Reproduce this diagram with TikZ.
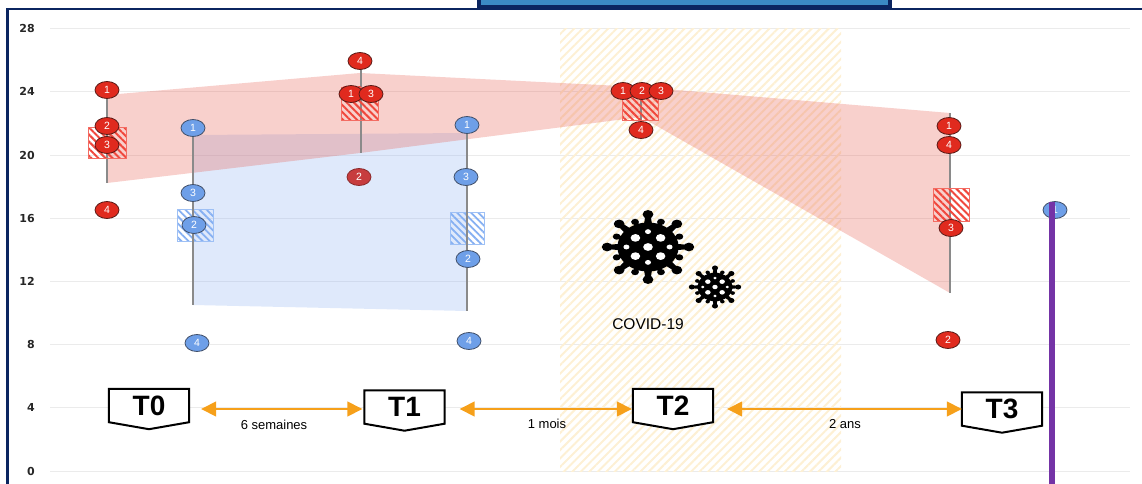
\documentclass[tikz,border=0pt]{standalone}
\usepackage{fontspec}
\setmainfont{Liberation Sans}
\newfontfamily\axisfont{DejaVu Sans}
\usetikzlibrary{shapes.geometric,arrows.meta,patterns.meta}
\pgfdeclarelayer{chart}
\pgfdeclarelayer{boxes}
\pgfsetlayers{chart,boxes,main}

\definecolor{navy}{HTML}{0B2560}
\definecolor{topblue}{HTML}{3B8AC4}
\definecolor{gridc}{HTML}{EBEBEB}
\definecolor{covid}{HTML}{FFF9EA}
\definecolor{covidline}{HTML}{FDF0D4}
\definecolor{redband}{RGB}{232,98,85}
\definecolor{blueband}{RGB}{148,182,242}
\definecolor{bubred}{HTML}{E02A1E}
\definecolor{bubredline}{HTML}{5A1C18}
\definecolor{bubredmute}{HTML}{C73C3E}
\definecolor{bubblue}{HTML}{6E9FE8}
\definecolor{bubblueline}{HTML}{41506A}
\definecolor{whiskc}{HTML}{8A8A8A}
\definecolor{arrorange}{HTML}{F6A01A}
\definecolor{purpleline}{HTML}{7433A6}
\definecolor{boxred}{HTML}{F0473C}
\definecolor{boxblue}{HTML}{86B0F2}

\tikzset{
  bub/.style={ellipse, minimum width=24pt, minimum height=17pt, inner sep=0pt,
    line width=0.8pt, text=white, font=\fontsize{10.5}{10.5}\selectfont},
  rbub/.style={bub, fill=bubred, draw=bubredline},
  mbub/.style={bub, fill=bubredmute, draw=bubredmute!70!black},
  bbub/.style={bub, fill=bubblue, draw=bubblueline},
  whisk/.style={draw=whiskc, line width=1.4pt},
  rbox/.style={fill=boxred!12, pattern={Lines[angle=-45,distance=5pt,line width=2pt]},
    pattern color=boxred, draw=boxred!80, line width=0.6pt},
  bbox/.style={fill=boxblue!15, pattern={Lines[angle=-45,distance=5pt,line width=1.8pt]},
    pattern color=boxblue, draw=boxblue!80, line width=0.6pt},
  gridl/.style={draw=gridc, line width=1pt},
  axlab/.style={anchor=east, inner sep=0pt, text=black!85,
    font=\axisfont\bfseries\fontsize{11}{11}\selectfont},
  tlab/.style={minimum width=80pt, minimum height=33pt, inner sep=0pt,
    font=\bfseries\fontsize{28}{28}\selectfont},
  tshape/.style={draw=black, line width=2pt, fill=white, line join=miter},
  oarr/.style={draw=arrorange, line width=1.5pt,
    {Triangle[length=15pt,width=15pt]}-{Triangle[length=15pt,width=15pt]}},
  alab/.style={inner sep=0pt, font=\fontsize{13}{13}\selectfont},
  pics/virus/.style={code={
    \fill (0,0) circle (1.02);
    \foreach \a in {0,45,...,315} {
      \fill (\a-9:0.9) -- (\a-4:1.3) -- (\a+4:1.3) -- (\a+9:0.9) -- cycle;
      \fill (\a:1.36) circle (0.18);
      \fill (\a+14:0.9) -- (\a+20:1.1) -- (\a+25:1.1) -- (\a+31:0.9) -- cycle;
      \fill (\a+22.5:1.13) circle (0.13);
    }
    \fill[white] (0,0) circle (0.16);
    \foreach \p in {(0.42,0.38),(-0.42,0.38),(0.42,-0.38),(-0.42,-0.38)}
      \fill[white] \p circle (0.16);
    \foreach \p in {(0,0.64),(0,-0.64),(0.72,0),(-0.72,0)}
      \fill[white] \p circle (0.1);
  }}
}

\begin{document}
\begin{tikzpicture}[x=1pt,y=-1pt]
\useasboundingbox (0,0) rectangle (1142,484);

\begin{pgfonlayer}{chart}
  % grid lines
  \foreach \v in {0,4,...,28}
    \draw[gridl] (50,{471-15.8*\v}) -- (1130,{471-15.8*\v});
  % axis labels
  \foreach \v in {0,4,...,28}
    \node[axlab] (ax\v) at (35,{471-15.8*\v}) {\v};

  % COVID period
  \path[fill=covid, pattern={Lines[angle=45,distance=6pt,line width=2pt]},
        pattern color=covidline] (560,29) rectangle (841,471);

  % bands
  \fill[blueband, opacity=0.3] (193,135) -- (467,133) -- (467,311) -- (193,305) -- cycle;
  \fill[redband, opacity=0.3] (107,95) -- (360,73) -- (641,87) -- (950,113)
        -- (950,293) -- (641,117) -- (360,153) -- (107,183) -- cycle;

  % red whiskers
  \draw[whisk] (107,90) -- (107,183);
  \draw[whisk] (361,61) -- (361,153);
  \draw[whisk] (641,97) -- (641,130);
  \draw[whisk] (950,113) -- (950,293);

  % boxes
  \path[rbox] (88,127) rectangle (126,158);
  \path[rbox] (341,87) rectangle (378,120);
  \path[rbox] (622,97) rectangle (658,120);
  \path[rbox] (933,188) rectangle (969,221);
  \path[bbox] (177,209) rectangle (213,241);
  \path[bbox] (450,212) rectangle (484,244);

  % blue whiskers
  \draw[whisk] (193,128) -- (193,305);
  \draw[whisk] (467,125) -- (467,311);

  % T0 red
  \node[rbub] (r01) at (107,90) {1};
  \node[rbub] (r02) at (107,126) {2};
  \node[rbub] (r03) at (107,145) {3};
  \node[rbub] (r04) at (107,210) {4};
  % T0 blue
  \node[bbub] (b01) at (193,128) {1};
  \node[bbub] (b03) at (193,193) {3};
  \node[bbub] (b02) at (194,225) {2};
  \node[bbub] (b04) at (197,343) {4};
  % T1 red
  \node[rbub] (r14) at (360,61) {4};
  \node[rbub] (r11) at (351,94) {1};
  \node[rbub] (r13) at (371,94) {3};
  \node[mbub] (r12) at (359,177) {2};
  % T1 blue
  \node[bbub] (b11) at (467,125) {1};
  \node[bbub] (b13) at (466,177) {3};
  \node[bbub] (b12) at (468,259) {2};
  \node[bbub] (b14) at (469,341) {4};
  % T2 red
  \node[rbub] (r21) at (623,91) {1};
  \node[rbub] (r22) at (642,91) {2};
  \node[rbub] (r23) at (661,91) {3};
  \node[rbub] (r24) at (641,130) {4};
  % T3 red
  \node[rbub] (r31) at (949,126) {1};
  \node[rbub] (r34) at (949,145) {4};
  \node[rbub] (r33) at (951,228) {3};
  \node[rbub] (r32) at (948,340) {2};
  % last blue
  \node[bbub] (b31) at (1055,210) {1};

  % viruses
  \begin{scope}[shift={(648,247)}, xscale=30, yscale=24]
    \pic[transform shape] {virus};
  \end{scope}
  \begin{scope}[shift={(715,287)}, xscale=17, yscale=14]
    \pic[transform shape] {virus};
  \end{scope}
  \node[inner sep=0pt, font=\fontsize{15.5}{15.5}\selectfont] (covidlab) at (648,324.5) {COVID-19};

  % purple line
  \draw[purpleline, line width=6pt] (1052,202) -- (1052,484);

  % frame
  \fill[navy] (477,-1) rectangle (892,10);
  \fill[topblue] (481,-1) rectangle (888,5);
  \draw[navy, line width=2.6pt] (7.5,484) -- (7.5,9) -- (1142,9);
\end{pgfonlayer}

% time points
\node[tlab] (T0) at (149,405.5) {T0};
\node[tlab] (T1) at (404.5,407) {T1};
\node[tlab] (T2) at (673,405.5) {T2};
\node[tlab] (T3) at (1002,409) {T3};

\begin{pgfonlayer}{boxes}
  \foreach \t in {T0,T1,T2,T3}
    \draw[tshape] (\t.north west) -- (\t.north east) -- (\t.south east)
      -- ([yshift=-7pt]\t.south) -- (\t.south west) -- cycle;
\end{pgfonlayer}

\draw[oarr, shorten <=12pt, shorten >=2pt] (T0.east |- T3) -- (T1.west |- T3);
\draw[oarr, shorten <=15pt, shorten >=1pt] (T1.east |- T3) -- (T2.west |- T3);
\draw[oarr, shorten <=14pt, shorten >=0pt] (T2.east |- T3) -- (T3.west);

\node[alab] (d1) at (274,425) {6 semaines};
\node[alab] (d2) at (547,424) {1 mois};
\node[alab] (d3) at (845,424) {2 ans};
\end{tikzpicture}
\end{document}
